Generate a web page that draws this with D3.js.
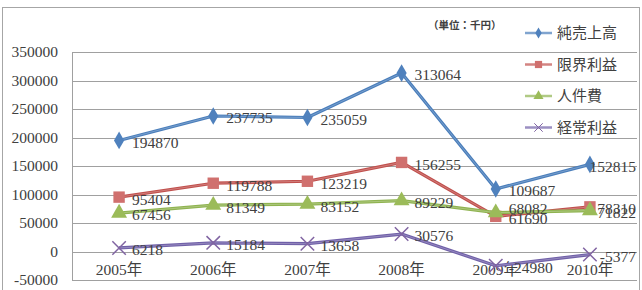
<!DOCTYPE html>
<html>
<head>
<meta charset="utf-8">
<script src="https://cdn.jsdelivr.net/npm/d3@7"></script>
<style>
  body { margin: 0; background: #fff; }
  svg text { fill: #404040; }
</style>
</head>
<body>
<div class="chart"></div>
<script>
// categories and series values (単位: 千円)
var years = ["2005年", "2006年", "2007年", "2008年", "2009年", "2010年"];
var seriesNames = ["純売上高", "限界利益", "人件費", "経常利益"];
var sales = [194870, 237735, 235059, 313064, 109687, 152815];
var marginalProfit = [95404, 119788, 123219, 156255, 61690, 78310];
var personnel = [67456, 81349, 83152, 89229, 68082, 71822];
var ordinaryProfit = [6218, 15184, 13658, 30576, -24980, -5377];
var yTicks = [-50000, 0, 50000, 100000, 150000, 200000, 250000, 300000, 350000];

var svgWidth = 642, svgHeight = 290;
var margin = { top: 52, right: 5, bottom: 10, left: 72 };
var chartWidth = svgWidth - margin.left - margin.right;
var chartHeight = svgHeight - margin.top - margin.bottom;

var serif = "'Liberation Serif', 'Noto Sans CJK JP', serif";
var gothic = "'Noto Sans CJK JP', sans-serif";

var svg = d3.select(".chart").append("svg")
  .attr("width", svgWidth)
  .attr("height", svgHeight);

// outer frame
svg.append("rect")
  .attr("x", 2.5).attr("y", 7.5)
  .attr("width", 637).attr("height", 300)
  .attr("fill", "none").attr("stroke", "#a6a6a6");

var chart = svg.append("g")
  .attr("transform", "translate(" + margin.left + "," + margin.top + ")");

var x = d3.scaleBand().domain(years).range([0, chartWidth]);
var y = d3.scaleLinear().domain([-50000, 350000]).range([chartHeight, 0]);
var cx = function(d, i) { return x(years[i]) + x.bandwidth() / 2; };

// gridlines
chart.selectAll(".grid").data(yTicks).enter().append("line")
  .attr("x1", 0).attr("x2", chartWidth)
  .attr("y1", function(d) { return Math.round(y(d)) + 0.5; })
  .attr("y2", function(d) { return Math.round(y(d)) + 0.5; })
  .attr("stroke", "#a0a0a0");

// plot left border
chart.append("line")
  .attr("x1", 0.5).attr("x2", 0.5)
  .attr("y1", 0).attr("y2", chartHeight)
  .attr("stroke", "#a0a0a0");

// y axis labels
var leftAxis = d3.axisLeft(y).tickValues(yTicks).tickSize(0).tickPadding(14)
  .tickFormat(function(d) { return d; });
chart.append("g").call(leftAxis)
  .call(function(g) { g.select(".domain").remove(); })
  .selectAll("text")
  .attr("font-family", serif).attr("font-size", 15.5).attr("fill", "#4a4a4a");

// x axis labels sit below the zero line
var bottomAxis = d3.axisBottom(x).tickSize(0).tickPadding(12);
chart.append("g")
  .attr("transform", "translate(0," + y(0) + ")")
  .call(bottomAxis)
  .call(function(g) { g.select(".domain").remove(); })
  .selectAll("text")
  .attr("font-family", serif).attr("font-size", 15.5).attr("fill", "#4a4a4a");

var series = [
  { name: seriesNames[0], values: sales, color: "#4a7ebb", fill: "#4f81bd", marker: d3.symbolDiamond, size: 90 },
  { name: seriesNames[1], values: marginalProfit, color: "#c0504d", fill: "#d0706e", marker: d3.symbolSquare, size: 130 },
  { name: seriesNames[2], values: personnel, color: "#8fb350", fill: "#9bbb59", marker: d3.symbolTriangle, size: 110 },
  { name: seriesNames[3], values: ordinaryProfit, color: "#7060a8", fill: "#8064a2", marker: d3.symbolX, size: 120 }
];

var line = d3.line().x(cx).y(function(d) { return y(d); });

series.forEach(function(s) {
  var g = chart.append("g");
  g.append("path").datum(s.values)
    .attr("d", line).attr("fill", "none")
    .attr("stroke", s.color).attr("stroke-width", 3.2).attr("stroke-linejoin", "round");
  g.append("path").datum(s.values)
    .attr("d", line).attr("fill", "none")
    .attr("stroke", "#fff").attr("stroke-opacity", 0.25).attr("stroke-width", 1);

  g.selectAll("path.mark").data(s.values).enter().append("path")
    .attr("class", "mark")
    .attr("transform", function(d, i) { return "translate(" + cx(d, i) + "," + y(d) + ")"; })
    .attr("d", d3.symbol().type(s.marker).size(s.size))
    .attr("fill", s.marker === d3.symbolX ? "none" : s.fill)
    .attr("stroke", s.marker === d3.symbolX ? s.fill : "none")
    .attr("stroke-width", 1.5);
});

// data labels, pulled back inside the plot when they would run past its right edge
series.forEach(function(s, si) {
  chart.selectAll(".lbl" + si).data(s.values).enter().append("text")
    .attr("x", function(d, i) { return cx(d, i) + 13; })
    .attr("y", function(d, i) {
      var yy = y(d) + 2;
      // 2009 人件費 label is pushed up off the 限界利益 label
      if (si === 2 && i === 4) yy -= 6;
      return yy;
    })
    .attr("dy", "0.35em")
    .attr("font-family", serif).attr("font-size", 15.5).attr("fill", "#333")
    .text(function(d) { return d; })
    .each(function() {
      var t = d3.select(this);
      var over = +t.attr("x") + this.getComputedTextLength() - (chartWidth - 1);
      if (over > 0) t.attr("x", +t.attr("x") - over);
    });
});

// unit note
svg.append("text")
  .attr("x", 428).attr("y", 29)
  .attr("font-family", gothic).attr("font-size", 10.5).attr("font-weight", "bold")
  .attr("fill", "#333")
  .text("（単位：千円）");

// legend
var legend = svg.append("g").attr("transform", "translate(525,33)");
series.forEach(function(s, i) {
  var row = legend.append("g").attr("transform", "translate(0," + (i * 31.5) + ")");
  row.append("line").attr("x1", 0).attr("x2", 27).attr("y1", 0).attr("y2", 0)
    .attr("stroke", s.color).attr("stroke-opacity", 0.7).attr("stroke-width", 2.5);
  row.append("path")
    .attr("transform", "translate(13.5,0)")
    .attr("d", d3.symbol().type(s.marker).size(s.size * 0.4))
    .attr("fill", s.marker === d3.symbolX ? "none" : s.fill)
    .attr("stroke", s.marker === d3.symbolX ? s.fill : "none");
  row.append("text").attr("x", 32).attr("dy", "0.35em")
    .attr("font-family", gothic).attr("font-size", 15).attr("fill", "#404040")
    .text(s.name);
});
</script>
</body>
</html>
